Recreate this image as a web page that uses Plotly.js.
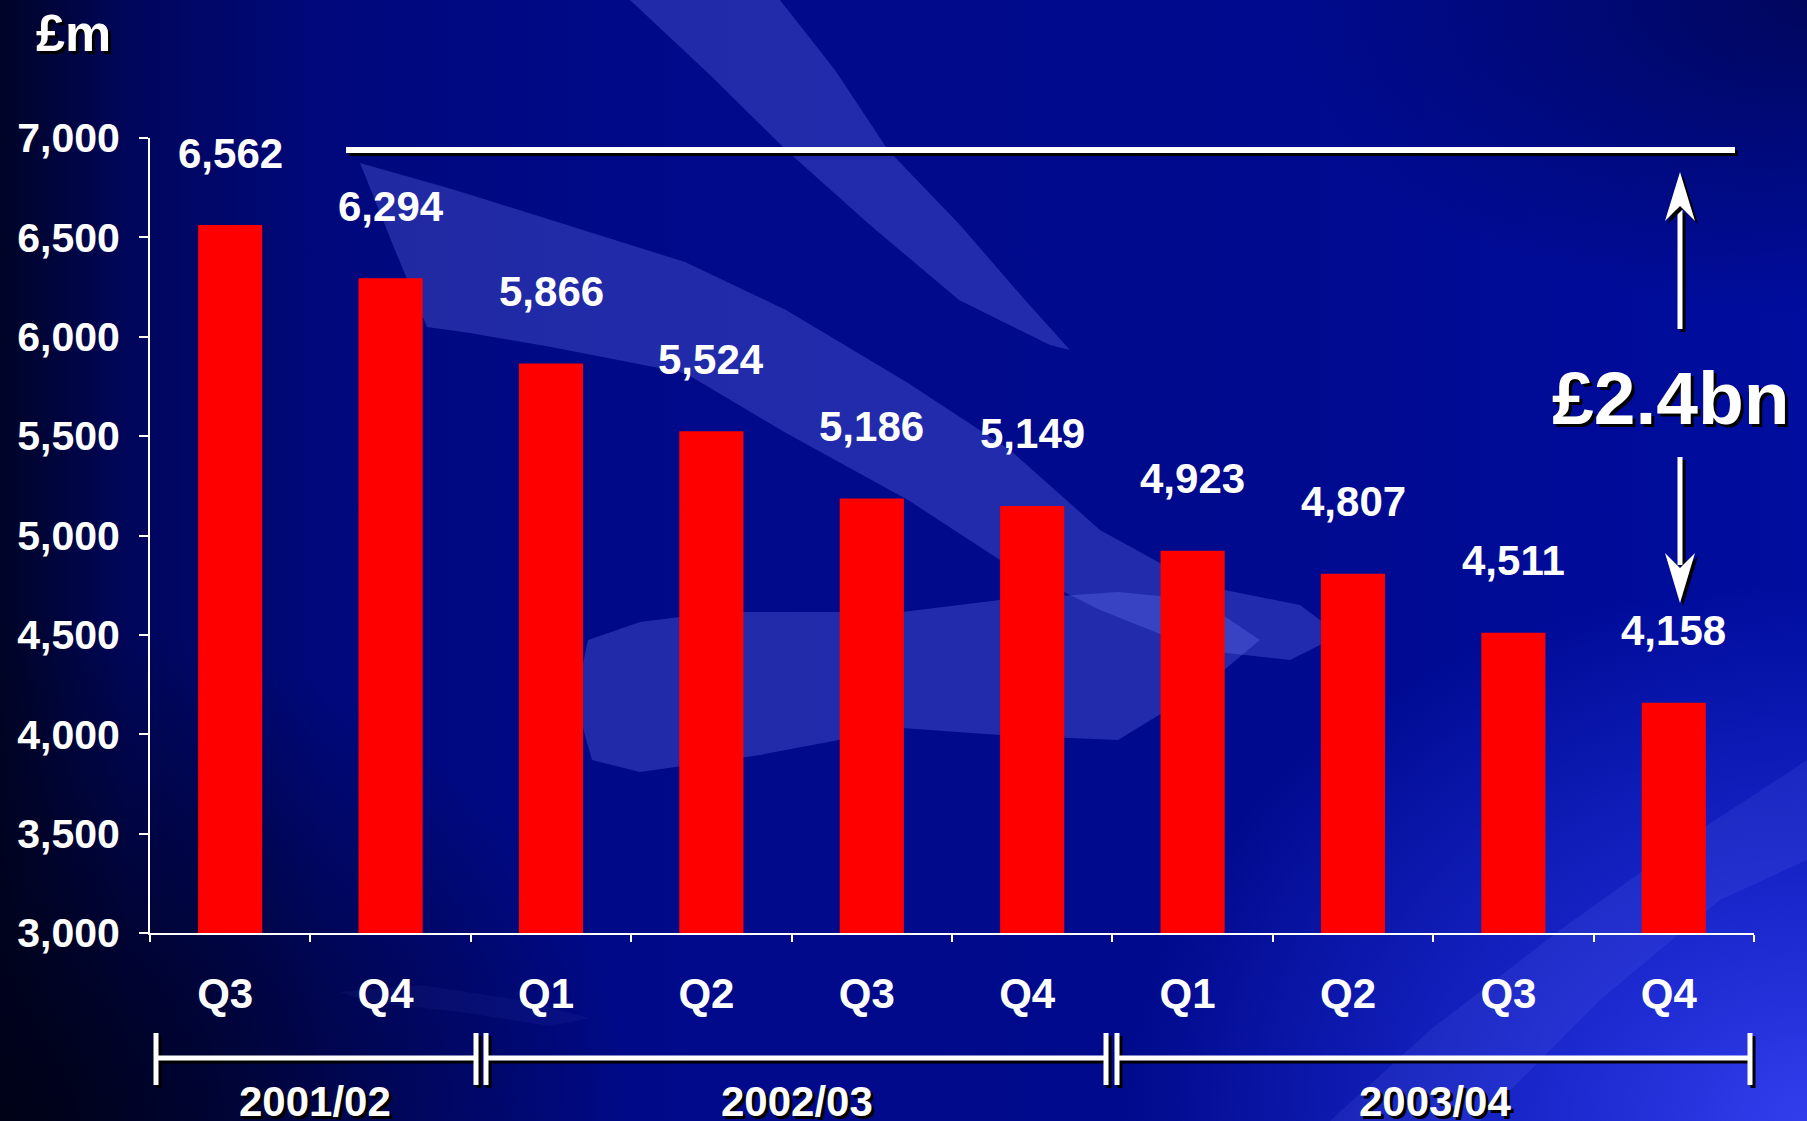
<!DOCTYPE html>
<html>
<head>
<meta charset="utf-8">
<script src="https://cdn.plot.ly/plotly-3.0.1.min.js"></script>
<style>
  html, body { margin: 0; padding: 0; width: 1807px; height: 1121px; overflow: hidden; }
  body {
    background:
      radial-gradient(ellipse 38% 48% at 100% 100%, rgba(50,62,236,1) 0%, rgba(34,48,220,0.75) 40%, rgba(10,22,180,0) 100%),
      radial-gradient(ellipse 30% 28% at 100% 0%, rgba(0,6,90,0.95) 0%, rgba(0,6,90,0) 100%),
      radial-gradient(ellipse 35% 45% at 0% 100%, rgba(0,2,24,1) 0%, rgba(0,2,24,0) 100%),
      linear-gradient(90deg, #000426 0%, #00065a 7%, #00087c 18%, #000a8a 38%, #000a8c 65%, #000d9e 100%);
  }
  #chart { width: 1807px; height: 1121px; }
</style>
</head>
<body>
<div id="chart"></div>
<script>
// ---- data ----
const quarters = ['Q3', 'Q4', 'Q1', 'Q2', 'Q3', 'Q4', 'Q1', 'Q2', 'Q3', 'Q4'];
const quarterYears = ['2001/02', '2001/02', '2002/03', '2002/03', '2002/03', '2002/03', '2003/04', '2003/04', '2003/04', '2003/04'];
const values = [6562, 6294, 5866, 5524, 5186, 5149, 4923, 4807, 4511, 4158];
const fiscalYears = ['2001/02', '2002/03', '2003/04'];
const yTicks = [3000, 3500, 4000, 4500, 5000, 5500, 6000, 6500, 7000];
const unitLabel = '£m';
const reductionLabel = '£2.4bn';

const periods = quarterYears.map((y, i) => y + ' ' + quarters[i]);

// ---- geometry helpers (pixel -> paper) ----
const W = 1807, H = 1121, PL = 150, PR = 1754, PT = 138, PB = 933;
const fx = p => (p - PL) / (PR - PL);
const fy = p => (PB - p) / (PB - PT);
const pt = (x, y) => fx(x).toFixed(5) + ',' + fy(y).toFixed(5);

const FONT = "'Liberation Sans', Arial, sans-serif";
const WHITE = '#ffffff';
const shapes = [];

// background swooshes (decoration)
function poly(points, fill) {
  let d = 'M' + pt(points[0][0], points[0][1]);
  for (let i = 1; i < points.length; i++) d += ' L' + pt(points[i][0], points[i][1]);
  d += ' Z';
  shapes.push({type: 'path', xref: 'paper', yref: 'paper', path: d, fillcolor: fill, line: {width: 0}, layer: 'below'});
}
const swoosh = 'rgba(120,130,255,0.28)';
const swooshSoft = 'rgba(120,130,255,0.12)';
// top diagonal band
poly([[630,0],[780,0],[835,70],[888,150],[960,225],[1025,300],[1070,350],[1050,345],[959,300],[870,225],[786,150],[710,75]], swoosh);
// curved band
poly([[360,163],[455,190],[551,220],[685,262],[786,310],[908,383],[1010,450],[1100,530],[1200,585],[1300,605],[1340,635],[1290,660],[1200,650],[1100,610],[1000,560],[908,500],[786,433],[685,373],[551,347],[470,333],[427,327],[395,250]], swoosh);
// lower leaf band
poly([[588,640],[640,622],[720,612],[902,612],[1000,600],[1118,592],[1200,600],[1260,640],[1200,690],[1118,740],[1000,735],[902,728],[760,755],[640,772],[592,760],[575,700]], swoosh);
// bottom-right streak
poly([[1330,1121],[1480,1121],[1600,1000],[1720,900],[1807,860],[1807,760],[1700,830],[1560,930],[1430,1030]], swooshSoft);
// faint streak under axis
poly([[340,992],[420,985],[520,1000],[590,1018],[550,1026],[460,1012],[370,1002]], 'rgba(120,130,255,0.06)');

// lines with drop shadow
function sline(x0, y0, x1, y1, w) {
  shapes.push({type: 'line', xref: 'paper', yref: 'paper', x0: fx(x0 + 3), y0: fy(y0 + 3), x1: fx(x1 + 3), y1: fy(y1 + 3), line: {color: '#000000', width: w}});
  shapes.push({type: 'line', xref: 'paper', yref: 'paper', x0: fx(x0), y0: fy(y0), x1: fx(x1), y1: fy(y1), line: {color: WHITE, width: w}});
}
function shead(points) {
  const mk = (dx, dy, col) => {
    let d = 'M' + pt(points[0][0] + dx, points[0][1] + dy);
    for (let i = 1; i < points.length; i++) d += ' L' + pt(points[i][0] + dx, points[i][1] + dy);
    d += ' Z';
    shapes.push({type: 'path', xref: 'paper', yref: 'paper', path: d, fillcolor: col, line: {width: 0}});
  };
  mk(3, 3, '#000000');
  mk(0, 0, WHITE);
}

// top reference line
sline(346, 150, 1735, 150, 6);

// year brackets
const brY = 1058, brTop = 1033, brBot = 1085;
sline(156, brTop, 156, brBot, 5);
sline(156, brY, 476, brY, 5);
sline(476, brTop, 476, brBot, 5);
sline(486, brTop, 486, brBot, 5);
sline(486, brY, 1106, brY, 5);
sline(1106, brTop, 1106, brBot, 5);
sline(1117, brTop, 1117, brBot, 5);
sline(1117, brY, 1750, brY, 5);
sline(1750, brTop, 1750, brBot, 5);

// double-headed arrow split around the label
const ax = 1680;
sline(ax, 210, ax, 329, 5);
shead([[ax, 172], [ax + 15, 221], [ax, 206], [ax - 15, 221]]);
sline(ax, 457, ax, 565, 5);
shead([[ax, 603], [ax + 15, 553], [ax, 568], [ax - 15, 553]]);

// ---- annotations ----
const annotations = [];
values.forEach((v, i) => {
  annotations.push({
    x: periods[i], y: v, xref: 'x', yref: 'y',
    text: v.toLocaleString('en-GB'), showarrow: false,
    yanchor: 'middle', yshift: 72,
    font: {family: FONT, size: 42, color: WHITE, weight: 'bold'}
  });
});
const yearCentres = [315, 797, 1435];
fiscalYears.forEach((y, i) => {
  annotations.push({
    x: fx(yearCentres[i]), y: fy(1101), xref: 'paper', yref: 'paper',
    text: y, showarrow: false, xanchor: 'center', yanchor: 'middle',
    font: {family: FONT, size: 42, color: WHITE, weight: 'bold', shadow: '3px 3px 0px #000000'}
  });
});
annotations.push({
  x: fx(73), y: fy(33), xref: 'paper', yref: 'paper', text: unitLabel, showarrow: false,
  xanchor: 'center', yanchor: 'middle',
  font: {family: FONT, size: 52, color: WHITE, weight: 'bold', shadow: '3px 3px 0px #000000'}
});
annotations.push({
  x: fx(1671), y: fy(398), xref: 'paper', yref: 'paper', text: reductionLabel, showarrow: false,
  xanchor: 'center', yanchor: 'middle',
  font: {family: FONT, size: 75, color: WHITE, weight: 'bold', shadow: '3px 3px 0px #000000'}
});

// ---- chart ----
const trace = {
  type: 'bar', x: periods, y: values, width: 0.4,
  marker: {color: '#ff0000', line: {width: 0}},
  hoverinfo: 'skip'
};

const layout = {
  width: W, height: H,
  margin: {l: PL, r: W - PR, t: PT, b: H - PB, pad: 0},
  paper_bgcolor: 'rgba(0,0,0,0)', plot_bgcolor: 'rgba(0,0,0,0)',
  showlegend: false, hovermode: false,
  xaxis: {
    type: 'category', range: [-0.5, 9.5],
    tickmode: 'array', tickvals: periods, ticktext: quarters,
    tickson: 'boundaries', ticks: 'outside', ticklen: 7, tickwidth: 2, tickcolor: WHITE,
    showline: true, linecolor: WHITE, linewidth: 2,
    showgrid: false, zeroline: false,
    ticklabelstandoff: 23, ticklabelshift: -5,
    tickfont: {family: FONT, size: 42, color: WHITE, weight: 'bold'}
  },
  yaxis: {
    range: [3000, 7000], tickmode: 'array', tickvals: yTicks, tickformat: ',',
    ticks: 'outside', ticklen: 9, tickwidth: 2, tickcolor: WHITE,
    showline: true, linecolor: WHITE, linewidth: 2,
    showgrid: false, zeroline: false,
    ticklabelstandoff: 11,
    tickfont: {family: FONT, size: 41, color: WHITE, weight: 'bold'}
  },
  shapes: shapes,
  annotations: annotations
};

Plotly.newPlot('chart', [trace], layout, {displayModeBar: false, staticPlot: true});
</script>
</body>
</html>
